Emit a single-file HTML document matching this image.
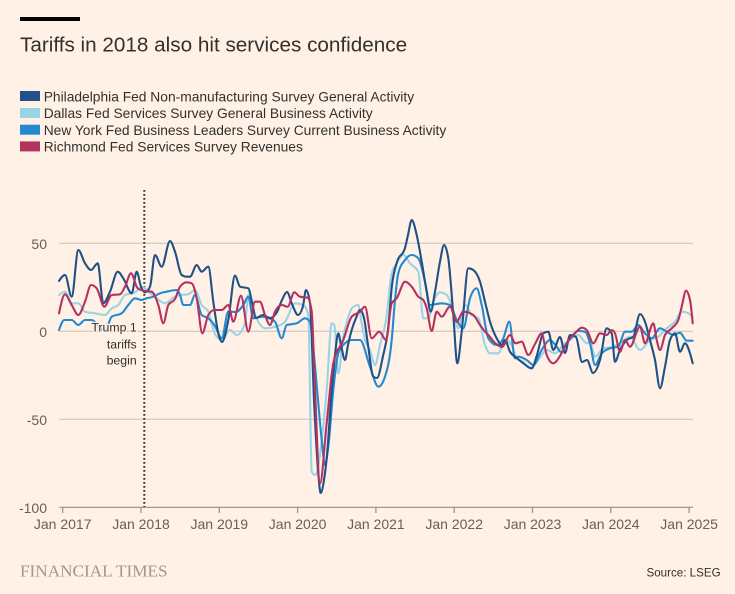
<!DOCTYPE html>
<html><head><meta charset="utf-8"><style>
html,body{margin:0;padding:0;background:#fff1e5;}
svg{display:block;}
text{font-family:"Liberation Sans",Arial,sans-serif;}
</style></head><body>
<svg id="chart" width="735" height="594" viewBox="0 0 735 594" xmlns="http://www.w3.org/2000/svg">
<rect width="735" height="594" fill="#fff1e5"/>
<rect x="20" y="17" width="60" height="4" fill="#000"/>
<text x="20" y="51.7" font-size="20.7" fill="#33302e">Tariffs in 2018 also hit services confidence</text>
<g font-size="13.8" fill="#33302e">
<rect x="20" y="91" width="20" height="10" fill="#205088"/>
<text x="43.7" y="101.5">Philadelphia Fed Non-manufacturing Survey General Activity</text>
<rect x="20" y="108" width="20" height="10" fill="#98d4e6"/>
<text x="43.7" y="118.2">Dallas Fed Services Survey General Business Activity</text>
<rect x="20" y="124.7" width="20" height="10" fill="#2489cf"/>
<text x="43.7" y="134.9">New York Fed Business Leaders Survey Current Business Activity</text>
<rect x="20" y="141.4" width="20" height="10" fill="#b5325f"/>
<text x="43.7" y="151.6">Richmond Fed Services Survey Revenues</text>
</g>
<g stroke="#cbc0b6" stroke-width="1">
<line x1="59.3" x2="693" y1="243.3" y2="243.3"/>
<line x1="59.3" x2="693" y1="331.3" y2="331.3"/>
<line x1="59.3" x2="693" y1="419.3" y2="419.3"/>
</g>
<line x1="59.3" x2="693" y1="507.3" y2="507.3" stroke="#988f87" stroke-width="1.2"/>
<g stroke="#988f87" stroke-width="1.2">
<line x1="62.7" x2="62.7" y1="507" y2="513"/>
<line x1="141" x2="141" y1="507" y2="513"/>
<line x1="219.3" x2="219.3" y1="507" y2="513"/>
<line x1="297.6" x2="297.6" y1="507" y2="513"/>
<line x1="375.9" x2="375.9" y1="507" y2="513"/>
<line x1="454.2" x2="454.2" y1="507" y2="513"/>
<line x1="532.5" x2="532.5" y1="507" y2="513"/>
<line x1="610.8" x2="610.8" y1="507" y2="513"/>
<line x1="689.1" x2="689.1" y1="507" y2="513"/>
</g>
<g font-size="14" fill="#66605c" text-anchor="end">
<text x="47" y="249">50</text>
<text x="47" y="337">0</text>
<text x="47" y="425">-50</text>
<text x="47" y="513">-100</text>
</g>
<g font-size="14" fill="#66605c" text-anchor="middle">
<text x="62.7" y="529">Jan 2017</text>
<text x="141" y="529">Jan 2018</text>
<text x="219.3" y="529">Jan 2019</text>
<text x="297.6" y="529">Jan 2020</text>
<text x="375.9" y="529">Jan 2021</text>
<text x="454.2" y="529">Jan 2022</text>
<text x="532.5" y="529">Jan 2023</text>
<text x="610.8" y="529">Jan 2024</text>
<text x="689.1" y="529">Jan 2025</text>
</g>
<line x1="144.3" x2="144.3" y1="190" y2="507" stroke="#33302e" stroke-width="2" stroke-dasharray="1.8,2.2"/>
<g id="series" fill="none" stroke-width="2.1" stroke-linejoin="round" stroke-linecap="round">
<polyline stroke="#98d4e6" points="59,295 65,291.7 71.7,303.3 78.3,303.3 85,311.7 95,313.3 105,315 111.7,308.3 118.3,305 125,295 135,292.3 142.3,286.7 148.3,291.7 156.7,298.3 165,303.3 173.3,297.7 180,295 188.3,294.3 195,290 201.7,305 208.3,311.7 215,334 221.7,340 230,330 236.7,335 245,323.3 248.3,295 255,315 265,328.3 275,326.7 285,321.7 295,303.3 303.3,305 308.3,315 311.7,471.7 315,475 318,468 321.7,440 326.7,390 331.7,323.3 334.3,325 338.3,373.3 343.3,336.7 348.3,316.7 352,308 358.3,305 361.7,323.3 365,340 370,350 375,365 380,345 386,320 391.7,273.3 396.7,263.3 403.3,255 410,263.3 418.3,271.7 423.3,318.3 428.3,318.3 433.3,301.7 440,292.3 446.7,295 451.7,305 458.3,328.3 465,305 471.7,315 478.3,318.3 485,345 490,353.3 498.3,353.3 505,340 511.7,345 516.7,358.3 523.3,361.7 530,368.3 538.3,360 546.7,350 555,353.3 563.3,345 570,340 578.3,335 586.7,343.3 590,341.7 595,356.7 603.3,348.3 613.3,346.7 621.7,341.7 630,336.7 640,350 650,340 658.3,336.7 666.7,328.3 675,321.7 681.7,311.7 688.3,313.3 692.7,316.7"/>
<polyline stroke="#2489cf" points="59,330 64.3,320 71.7,320 78.3,325 85,320 91.7,320 98,325 105,331 111.7,316.7 121.7,313.3 128.3,305 135,298.3 141.7,300 146.7,298.3 153.3,296.7 160,293.3 166.7,291.7 176.7,290 180,295 183.3,305 190,305 195,295 201.7,315 208.3,318.3 215,326 221.7,338.3 228.3,311.7 236,312 243.3,305 248.3,296.7 253.3,318.3 261.7,316.7 268,318 275,321.7 281.7,338.3 286.7,325 296.7,323.3 305,318.3 310,321.7 313.3,348.3 318,400 321.7,440 325,465 328.3,446.7 333.3,390 338.3,353.3 345,343.3 351.7,340 360,340 370,366.7 378.3,386.7 385,376.7 391.7,340 395,300 398.3,273.3 405,260 411.7,255 418.3,258.3 425,281.7 430,305 441.7,303.3 450,305 456.7,320 463.3,328.3 470,298.3 476.7,288.3 481.7,305 488.3,338.3 496.7,345 503.3,338.3 509.3,321.7 515,358.3 518.3,356.7 526.7,360 533.3,365 541.7,350 550,340 556.7,346.7 561,352 566.7,343.3 572,336 578,331 585,331.7 590,343.3 595,365 601.7,353.3 610,348.3 618.3,346.7 625,331.7 631.7,331.7 638.3,325 645,333.3 651.7,338.3 660,328.3 666.7,331.7 673.3,335 680,332.7 686.7,340.7 692.7,340.7"/>
<polyline stroke="#205088" points="59,281 65,275 71.7,296.7 78.3,250 85,263.3 91,270 97.7,263.3 103.3,303.3 110,291.7 117.7,271.7 123.3,278.3 131.7,293.3 136.7,271.7 141,286.7 145,292.3 150,286.7 155,255 161.7,266.7 170,241 175,251.7 181.7,275 186.7,276.7 190,276.7 196.7,265 201.7,271.7 208.3,266.7 213.3,301.7 218.3,333.3 222,342 228.3,320 235,275.7 240,286.7 248.3,288.3 252,302 256,318 263,315 270,318 277,312 282,300 287,292 292,304 298,315 303,306 306,290 310,303 314,400 318,470 320.7,493 324,480 327,455 331,400 335,355 338.3,333.3 341,345 345,360 348,345 351.7,330 356,318 360,310 364,318 368,345 373.3,376.7 377,378 383,356 388,330 392,285 397,262 405,248 408,235 411.7,220 416.7,235 421.7,261.7 426.7,291.7 430.7,311.7 435,291.7 440,261.7 444,245 448.3,258.3 453.3,315 457.3,363.3 461.7,331.7 468.3,268.3 473.3,270 480,281.7 485,301.7 490,321.7 496.7,338.3 501.7,345 505,340 510,351.7 516.7,358 523.3,363.3 531.7,368.3 537,355 543.3,333.3 548.3,331.7 553.3,350 560,337 565,353 570,335 576,337 582,362 587,360 593,373 600,360 606.7,328.3 611.7,333.3 615,361.7 620,350 626.7,340 633.3,336.7 640,314 645,321.7 650,340 655,360 660,388.3 665,366.7 670,340 675,333.3 680,351.7 685,343.3 690,353.3 692.7,363.3"/>
<polyline stroke="#b5325f" points="59,313.3 65,294.3 71.7,305 78.3,315 85,301.7 91,285 96.7,288.3 104.3,306.7 111.7,295 120,294.3 125,286.7 131,273.3 137.7,288.3 145,291 151.7,291.7 158.3,305 163.3,323.3 168.3,305 175,299 180,286.7 186.7,282.3 191.7,283.3 196.7,298.3 202.3,333.3 208.3,315 214.3,310 221.7,310 228.3,305 233.3,321.7 241,295.7 248.3,331.7 255,301.7 260,301.7 265,315 270,325 275,311.7 281.7,305 287.7,306.7 294.3,292.3 300,296.7 307.7,297.7 311.7,311.7 315,390 320,483.3 326.7,423 333.3,363.3 343.3,340 351.7,316.7 360,311.7 365,306.7 371.7,338.3 379.3,331.7 386,340 391.7,303.3 396.7,298.3 405,281.7 411.7,286.7 418.3,296.7 423.3,300 426.7,308.3 431.7,331 436.7,311.7 441.7,316.7 450,306.7 456.7,321.7 463.3,311.7 473.3,315 480,325 485,331.7 488.3,335 495,343 502,347 510,335 515.5,343.3 521.7,341.7 528.3,355 535,344 541.7,333.3 546.7,355 553.3,363.3 560,356 566.7,343.3 575,333.3 581.7,327.7 586.7,330 593.3,343.3 600,333.3 606.7,335 611.7,330 615,333.3 620,351.7 625,340 630,346.7 640,326.7 645,343.3 653.3,323.3 656.7,340 660,350 665,335 671.7,328.3 678.3,320 681.7,306.7 686,290.7 690,300 692.7,323.3"/>
</g>
<g font-size="12.3" fill="#33302e" text-anchor="end" stroke="#fff1e5" stroke-width="2.5" paint-order="stroke" stroke-linejoin="round">
<text x="136.7" y="331.7">Trump 1</text>
<text x="136.7" y="348.3">tariffs</text>
<text x="136.7" y="364.5">begin</text>
</g>
<text x="20" y="576.7" font-size="17.2" fill="#a0978f" style="font-family:'Liberation Serif',serif">FINANCIAL TIMES</text>
<text x="720.6" y="576.5" font-size="11.6" fill="#33302e" text-anchor="end">Source: LSEG</text>
</svg>
<script>
(function(){
  try{
    var NS="http://www.w3.org/2000/svg";
    var g=document.getElementById("series");
    var pls=Array.prototype.slice.call(g.getElementsByTagName("polyline"));
    function sign(v){return v<0?-1:1;}
    pls.forEach(function(pl){
      var pts=pl.getAttribute("points").trim().split(/\s+/).map(function(p){var a=p.split(",");return [parseFloat(a[0]),parseFloat(a[1])];});
      var n=pts.length; if(n<3) return;
      var t=new Array(n);
      for(var i=1;i<n-1;i++){
        var x0=pts[i-1][0],y0=pts[i-1][1],x1=pts[i][0],y1=pts[i][1],x2=pts[i+1][0],y2=pts[i+1][1];
        var h0=x1-x0,h1=x2-x1,s0=(y1-y0)/h0,s1=(y2-y1)/h1,p=(s0*h1+s1*h0)/(h0+h1);
        var v=(sign(s0)+sign(s1))*Math.min(Math.abs(s0),Math.abs(s1),0.5*Math.abs(p));
        t[i]=isFinite(v)?v:0;
      }
      var h=pts[1][0]-pts[0][0];
      t[0]=h?(3*(pts[1][1]-pts[0][1])/h-t[1])/2:t[1];
      h=pts[n-1][0]-pts[n-2][0];
      t[n-1]=h?(3*(pts[n-1][1]-pts[n-2][1])/h-t[n-2])/2:t[n-2];
      var d="M"+pts[0][0]+","+pts[0][1];
      for(var j=0;j<n-1;j++){
        var a=pts[j],b=pts[j+1],dx=(b[0]-a[0])/3;
        d+="C"+(a[0]+dx).toFixed(2)+","+(a[1]+dx*t[j]).toFixed(2)+" "+(b[0]-dx).toFixed(2)+","+(b[1]-dx*t[j+1]).toFixed(2)+" "+b[0]+","+b[1];
      }
      var path=document.createElementNS(NS,"path");
      path.setAttribute("d",d);
      path.setAttribute("stroke",pl.getAttribute("stroke"));
      g.replaceChild(path,pl);
    });
  }catch(e){}
})();
</script>
</body></html>
